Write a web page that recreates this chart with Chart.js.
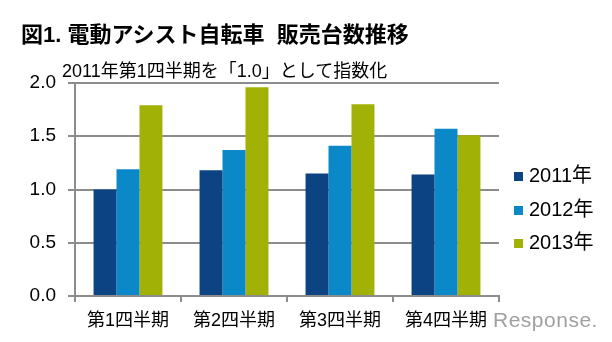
<!DOCTYPE html>
<html><head><meta charset="utf-8">
<script src="https://cdn.jsdelivr.net/npm/chart.js@4/dist/chart.umd.min.js"></script>
<style>
html,body{margin:0;padding:0;background:#fff;width:612px;height:342px;overflow:hidden;font-family:"Liberation Sans","Noto Sans CJK JP",sans-serif;}
#wrap{position:relative;width:612px;height:342px;}
canvas{position:absolute;left:0;top:0;}
.t{position:absolute;white-space:pre;color:#000;}
#title{left:21px;top:16px;font-size:22px;font-weight:bold;}
#sub{left:62px;top:56px;font-size:18px;}
#legend{position:absolute;left:514px;top:163px;}
.li{position:relative;height:33.5px;width:95px;font-size:20px;line-height:24px;white-space:nowrap;}
.sw{position:absolute;left:0;top:9px;width:9px;height:9px;}
.lt{position:absolute;left:15px;top:0;white-space:nowrap;}
#resp{left:493px;top:308px;font-size:21px;color:#a0a0a0;letter-spacing:0.5px;}
</style></head>
<body><div id="wrap">
<canvas id="c" width="612" height="342"></canvas>
<div class="t" id="title">図1. 電動アシスト自転車  販売台数推移</div>
<div class="t" id="sub">2011年第1四半期を「1.0」として指数化</div>
<div id="legend"></div>
<div class="t" id="resp">Response.</div>
</div>
<script>
const categories = ["第1四半期","第2四半期","第3四半期","第4四半期"];
const seriesNames = ["2011年","2012年","2013年"];
const values2011 = [1.00, 1.18, 1.15, 1.14];
const values2012 = [1.19, 1.37, 1.41, 1.57];
const values2013 = [1.79, 1.96, 1.80, 1.51];
const colors = ["#0b4383","#0a88c8","#a2b106"];
const yTicks = [0, 0.5, 1.0, 1.5, 2.0];

const series = [values2011, values2012, values2013];
const lg = document.getElementById('legend');
seriesNames.forEach((n,i)=>{
  const d=document.createElement('div');d.className='li';
  d.innerHTML='<div class="sw" style="background:'+colors[i]+'"></div><div class="lt">'+n+'</div>';
  lg.appendChild(d);
});

const FONT = '"Liberation Sans","Noto Sans CJK JP",sans-serif';
new Chart(document.getElementById('c'), {
  type:'bar',
  data:{
    labels:categories,
    datasets: series.map((v,i)=>({label:seriesNames[i],data:v,backgroundColor:colors[i],borderWidth:0,barPercentage:1.0,categoryPercentage:0.65}))
  },
  options:{
    responsive:false,animation:false,
    layout:{padding:{left:0,right:113,top:83,bottom:0}},
    plugins:{legend:{display:false},tooltip:{enabled:false},title:{display:false}},
    scales:{
      x:{
        grid:{display:true,drawOnChartArea:false,drawTicks:true,tickLength:6,color:'#8c8c8c',lineWidth:2,offset:true},
        border:{display:true,color:'#8c8c8c',width:2},
        ticks:{color:'#000',font:{family:FONT,size:18},padding:8,maxRotation:0},
        afterFit:s=>{s.height=46;}
      },
      y:{
        min:0,max:2.0,
        afterBuildTicks:s=>{s.ticks=yTicks.map(v=>({value:v}));},
        grid:{color:'#8c8c8c',lineWidth:2,tickLength:7,drawTicks:true},
        border:{display:true,color:'#8c8c8c',width:2},
        ticks:{color:'#000',font:{family:FONT,size:19},padding:12,callback:v=>Number(v).toFixed(1)},
        afterFit:s=>{s.width=75;}
      }
    }
  }
});
</script>
</body></html>
